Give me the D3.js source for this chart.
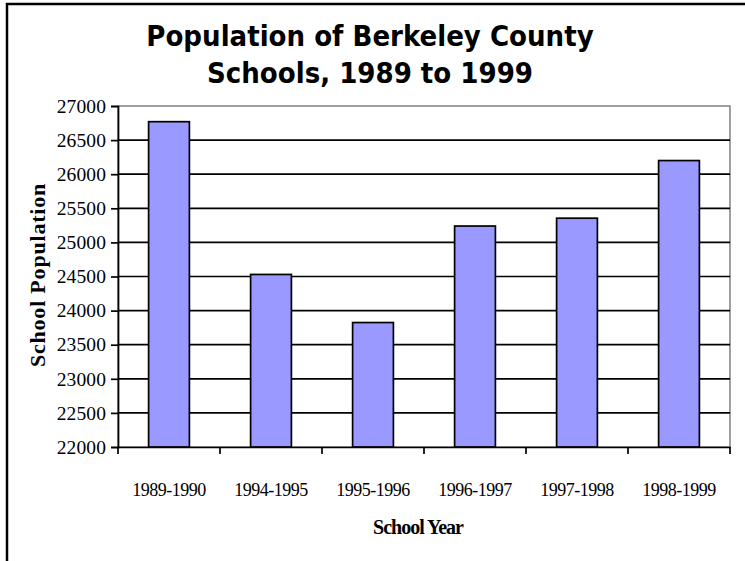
<!DOCTYPE html>
<html><head><meta charset="utf-8">
<script src="https://cdn.jsdelivr.net/npm/d3@7"></script>
<style>body{margin:0;background:#fff;} svg{display:block;}</style>
</head><body>
<script>
const categories = ["1989-1990","1994-1995","1995-1996","1996-1997","1997-1998","1998-1999"];
const population = [26770, 24530, 23825, 25240, 25355, 26200];
const yTicks = [22000,22500,23000,23500,24000,24500,25000,25500,26000,26500,27000];
const titleLines = ["Population of Berkeley County","Schools, 1989 to 1999"];

const W = 745, H = 561;
const m = {left:118, right:730, top:106, bottom:447};
const svg = d3.select("body").append("svg").attr("width",W).attr("height",H);
svg.append("rect").attr("width",W).attr("height",H).attr("fill","#fff");
// outer frame (partially cropped)
svg.append("rect").attr("x",7).attr("y",4).attr("width",800).attr("height",700)
  .attr("fill","none").attr("stroke","#000").attr("stroke-width",2.5);

const xb = d3.scaleBand().domain(categories).range([m.left,m.right]);
const y = d3.scaleLinear().domain([22000,27000]).range([m.bottom,m.top]);
const serif = "'Liberation Serif','Times New Roman',serif";

// plot border (gray)
svg.append("rect").attr("x",m.left).attr("y",m.top).attr("width",m.right-m.left).attr("height",m.bottom-m.top)
  .attr("fill","none").attr("stroke","#808080").attr("stroke-width",1.5);
// gridlines
svg.append("g").selectAll("line").data(yTicks.filter(d=>d>22000 && d<27000)).join("line")
  .attr("x1",m.left).attr("x2",m.right).attr("y1",d=>y(d)).attr("y2",d=>y(d))
  .attr("stroke","#000").attr("stroke-width",1.7);

// bars
const barW = xb.bandwidth()/2.5;
svg.append("g").selectAll("rect").data(categories).join("rect")
  .attr("x",(d)=>xb(d)+xb.bandwidth()/2-barW/2).attr("width",barW)
  .attr("y",(d,i)=>y(population[i])).attr("height",(d,i)=>y(22000)-y(population[i]))
  .attr("fill","#9999FF").attr("stroke","#000").attr("stroke-width",1.7);

// y axis
const yAxis = svg.append("g").attr("transform",`translate(${m.left},0)`)
  .call(d3.axisLeft(y).tickValues(yTicks).tickSize(7).tickPadding(5).tickFormat(d3.format("d")));
yAxis.select(".domain").attr("stroke","#000").attr("stroke-width",1.7);
yAxis.selectAll(".tick line").attr("stroke","#000").attr("stroke-width",1.7);
yAxis.selectAll("text").attr("font-family",serif)
  .attr("font-size",19.5).attr("letter-spacing",0.1).attr("fill","#000");

// x axis
const xAxis = svg.append("g").attr("transform",`translate(0,${m.bottom})`)
  .call(d3.axisBottom(xb).tickSize(0).tickPadding(36));
xAxis.select(".domain").attr("stroke","#000").attr("stroke-width",1.7);
xAxis.selectAll("text").attr("font-family",serif)
  .attr("font-size",18).attr("letter-spacing",-0.5).attr("fill","#000");
// x ticks at boundaries
const bounds = categories.map(c=>xb(c)).concat([m.right]);
svg.append("g").selectAll("line").data(bounds).join("line")
  .attr("x1",d=>d).attr("x2",d=>d).attr("y1",m.bottom).attr("y2",m.bottom+7)
  .attr("stroke","#000").attr("stroke-width",1.7);

// axis titles
svg.append("text").attr("transform",`translate(40,275) rotate(-90)`)
  .attr("text-anchor","middle").attr("dominant-baseline","middle")
  .attr("font-family",serif).attr("font-weight","bold")
  .attr("font-size",22).attr("letter-spacing",0.8).text("School Population");
svg.append("text").attr("x",418).attr("y",534).attr("text-anchor","middle")
  .attr("font-family",serif).attr("font-weight","bold")
  .attr("font-size",20).attr("letter-spacing",-1).text("School Year");

// title
svg.append("g").selectAll("text").data(titleLines).join("text")
  .attr("x",370).attr("y",(d,i)=>46+i*37).attr("text-anchor","middle")
  .attr("font-family","'DejaVu Sans Condensed','DejaVu Sans',sans-serif").attr("font-weight","bold")
  .attr("font-size",29).attr("fill","#000").text(d=>d);
</script>
</body></html>
